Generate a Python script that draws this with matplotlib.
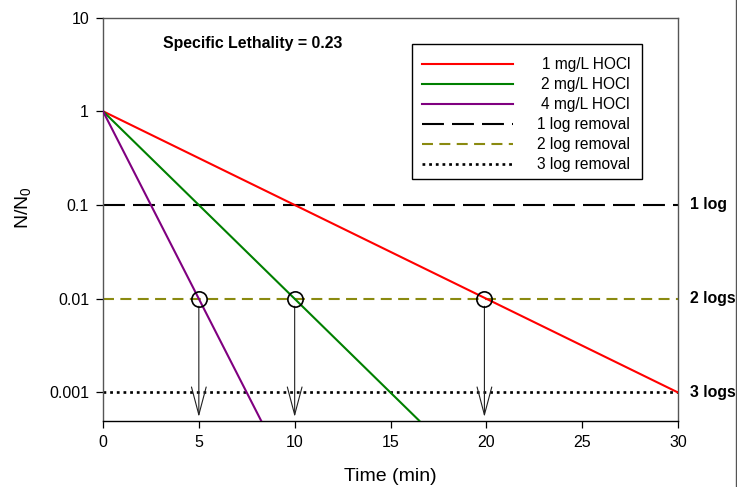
import matplotlib
matplotlib.use('Agg')
import matplotlib.pyplot as plt
from matplotlib.lines import Line2D
from matplotlib.patches import Rectangle
from matplotlib.ticker import NullLocator, FixedLocator
import matplotlib.transforms as mtransforms

plt.rcParams['font.family'] = ['Liberation Sans', 'DejaVu Sans']
plt.rcParams['lines.scale_dashes'] = False
plt.rcParams['mathtext.default'] = 'regular'

# ---- data ----
time_1mg = [0, 30]
ratio_1mg = [1, 0.001]
time_2mg = [0, 16.5]
ratio_2mg = [1, 0.0005]
time_4mg = [0, 8.25]
ratio_4mg = [1, 0.0005]
series_labels = ['1 mg/L HOCl', '2 mg/L HOCl', '4 mg/L HOCl']
series_colors = ['#ff0000', '#008000', '#800080']

removal_levels = [0.1, 0.01, 0.001]
removal_labels = ['1 log removal', '2 log removal', '3 log removal']
removal_side_labels = ['1 log', '2 logs', '3 logs']
removal_x = [0, 30]

ct_times = [5, 10, 19.9]
ct_level = 0.01
y_min = 0.0005

x_ticks = [0, 5, 10, 15, 20, 25, 30]
y_ticks = [0.001, 0.01, 0.1, 1, 10]
y_tick_labels = ['0.001', '0.01', '0.1', '1', '10']

# ---- figure ----
W, H = 737, 487
fig = plt.figure(figsize=(W / 100, H / 100), dpi=100)
AX_L, AX_R, AX_T, AX_B = 103, 678, 17.5, 420.7
ax = fig.add_axes([AX_L / W, 1 - AX_B / H, (AX_R - AX_L) / W, (AX_B - AX_T) / H])


def pa(px, py):
    return ((px - AX_L) / (AX_R - AX_L), (AX_B - py) / (AX_B - AX_T))


ax.set_yscale('log')
ax.set_xlim(0, 30)
ax.set_ylim(y_min, 10)

removal_styles = [
    dict(color='black', lw=1.5, linestyle=(0, (15.8, 5.8))),
    dict(color='#8a8a10', lw=1.5, linestyle=(0, (7.9, 4.6))),
    dict(color='black', lw=1.9, linestyle=(0, (2.0, 2.8))),
]
for lvl, st in zip(removal_levels, removal_styles):
    ax.plot(removal_x, [lvl, lvl], **st, zorder=2)

series = [(time_1mg, ratio_1mg), (time_2mg, ratio_2mg), (time_4mg, ratio_4mg)]
for (t, r), c in zip(series, series_colors):
    ax.plot(t, r, color=c, lw=1.5, zorder=3)

# CT circles and arrows
ax.plot(ct_times, [ct_level] * len(ct_times), 'o', ms=11, mfc='none',
        mec='black', mew=1.2, zorder=5)
for t in ct_times:
    ax.annotate('', xy=(t, y_min), xytext=(t, ct_level),
                arrowprops=dict(arrowstyle='->,head_length=2.0,head_width=0.53',
                                color='#202020', lw=0.8,
                                shrinkA=5.4, shrinkB=2.7), zorder=4)

# axes styling
ax.xaxis.set_major_locator(FixedLocator(x_ticks))
ax.set_yticks(y_ticks)
ax.set_yticklabels(y_tick_labels)
ax.yaxis.set_minor_locator(NullLocator())
ax.tick_params(axis='both', which='major', direction='out', length=5, width=0.9,
               labelsize=11.5, pad=5.0, top=False, right=False)
for side in ['left', 'top', 'right']:
    ax.spines[side].set_color('#555555')
    ax.spines[side].set_linewidth(1.0)
ax.spines['bottom'].set_color('black')
ax.spines['bottom'].set_linewidth(1.0)

ax.set_xlabel('Time (min)', fontsize=14)
ax.xaxis.set_label_coords(0.5, (AX_B - 468) / (AX_B - AX_T))
ax.set_ylabel('N/N$_0$', fontsize=14)
ax.yaxis.set_label_coords((33 - AX_L) / (AX_R - AX_L), (AX_B - 208) / (AX_B - AX_T))

# annotation text
x0, y0 = pa(163, 48)
ax.text(x0, y0, 'Specific Lethality = 0.23', transform=ax.transAxes,
        fontsize=11.4, fontweight='bold', ha='left', va='baseline')

# side labels
blend = mtransforms.blended_transform_factory(ax.transAxes, ax.transData)
for lvl, lab in zip(removal_levels, removal_side_labels):
    ax.text(pa(690, 0)[0], lvl, lab, transform=blend, fontsize=11.4,
            fontweight='bold', ha='left', va='center', clip_on=False)

# manual legend
lx0, ly0 = pa(412, 179)
lx1, ly1 = pa(642, 44)
ax.add_patch(Rectangle((lx0, ly0), lx1 - lx0, ly1 - ly0, transform=ax.transAxes,
                       facecolor='white', edgecolor='black', lw=1.0, zorder=6))
row_y = [64, 84, 104, 124, 144, 164]
leg_styles = [dict(color=c, lw=1.5, linestyle='-') for c in series_colors] + removal_styles
leg_labels = series_labels + removal_labels
hx0, _ = pa(422, 0)
hx1, _ = pa(513, 0)
tx, _ = pa(630, 0)
for yy, st, lab in zip(row_y, leg_styles, leg_labels):
    _, ay = pa(0, yy)
    ax.add_line(Line2D([hx0, hx1], [ay, ay], transform=ax.transAxes, zorder=7, **st))
    ax.text(tx, ay, lab, transform=ax.transAxes, fontsize=11.2, ha='right',
            va='center', zorder=7)

# right-edge frame line
fig.add_artist(Line2D([736.3 / W, 736.3 / W], [0, 1], transform=fig.transFigure,
                      color='#555555', lw=1.0))

fig.savefig('out.png', dpi=100)
